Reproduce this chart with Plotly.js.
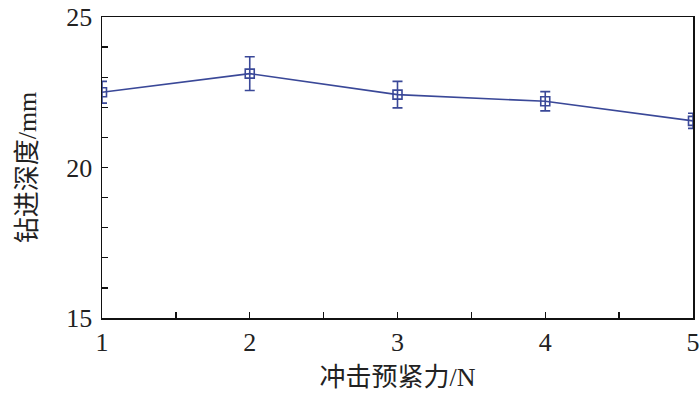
<!DOCTYPE html>
<html>
<head>
<meta charset="utf-8">
<script src="https://cdn.plot.ly/plotly-3.0.1.min.js"></script>
<style>html,body{margin:0;padding:0;background:#fff;}#chart{width:700px;height:395px;}</style>
</head>
<body>
<div id="chart"></div>
<script>
var force = [1, 2, 3, 4, 5];
var depth = [22.5, 23.12, 22.42, 22.2, 21.55];
var depthErr = [0.36, 0.56, 0.44, 0.32, 0.25];
var xTicks = [1, 2, 3, 4, 5];
var yTicks = [15, 20, 25];

var color = '#3a4898';
var fontFam = '"Liberation Serif", "Times New Roman", "Noto Sans CJK SC", serif';

var trace = {
  x: force,
  y: depth,
  type: 'scatter',
  mode: 'lines+markers',
  line: {color: color, width: 1.6},
  marker: {symbol: 'square-open', size: 9, color: color, line: {width: 1.6, color: color}},
  error_y: {type: 'data', array: depthErr, visible: true, color: color, thickness: 1.6, width: 5}
};

var layout = {
  width: 700,
  height: 395,
  margin: {l: 102, r: 7, t: 17, b: 77},
  paper_bgcolor: '#fff',
  plot_bgcolor: '#fff',
  showlegend: false,
  font: {family: fontFam, color: '#222', size: 26},
  xaxis: {
    range: [1, 5],
    tickvals: xTicks,
    ticktext: xTicks.map(String),
    ticks: 'inside',
    ticklen: 6,
    tickwidth: 1.3,
    tickcolor: '#111',
    showline: true,
    linecolor: '#111',
    linewidth: 1.5,
    mirror: true,
    showgrid: false,
    zeroline: false,
    ticklabeloverflow: 'allow',
    tickfont: {family: fontFam, size: 26, color: '#222'},
    minor: {dtick: 0.5, ticks: 'inside', ticklen: 6, tickwidth: 1.3, tickcolor: '#111', showgrid: false},
    title: {text: '冲击预紧力/N', font: {family: fontFam, size: 26, color: '#222'}, standoff: 12}
  },
  yaxis: {
    range: [15, 25],
    tickvals: yTicks,
    ticktext: yTicks.map(String),
    ticks: 'inside',
    ticklen: 6,
    tickwidth: 1.3,
    tickcolor: '#111',
    showline: true,
    linecolor: '#111',
    linewidth: 1.5,
    mirror: true,
    showgrid: false,
    zeroline: false,
    ticklabelstandoff: 3,
    tickfont: {family: fontFam, size: 26, color: '#222'},
    minor: {dtick: 1, ticks: 'inside', ticklen: 6, tickwidth: 1.3, tickcolor: '#111', showgrid: false},
    title: {text: '钻进深度/mm', font: {family: fontFam, size: 26, color: '#222'}, standoff: 22}
  }
};

Plotly.newPlot('chart', [trace], layout, {staticPlot: true, displayModeBar: false});
</script>
</body>
</html>
